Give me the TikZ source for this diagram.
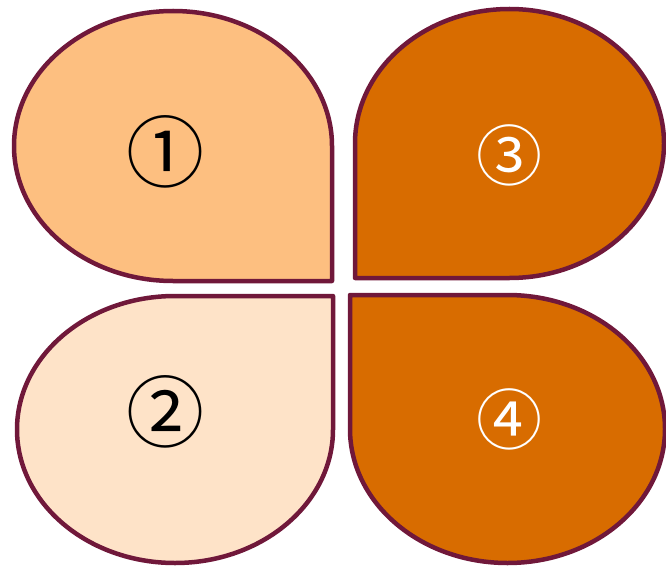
\documentclass[tikz,border=0pt]{standalone}
\usepackage{fontspec}
\newfontfamily\symfont{Noto Sans CJK JP}
\definecolor{edge}{RGB}{112,24,58}
\definecolor{fillA}{RGB}{253,191,128}
\definecolor{fillB}{RGB}{254,227,200}
\definecolor{fillC}{RGB}{216,108,0}
\begin{document}
\begin{tikzpicture}[x=1pt,y=1pt,
  petal/.style={draw=edge,line width=4.5pt,line join=round},
  darklabel/.style={font=\symfont\fontsize{78}{78}\selectfont,text=black,inner sep=0pt},
  lightlabel/.style={font=\symfont\fontsize{66}{66}\selectfont,text=white,inner sep=0pt}]
\useasboundingbox (0,0) rectangle (666,566);
% petal 1: square corner bottom-right
\draw[petal,fill=fillA] (332,420) -- (332,285) -- (173,285)
  arc[start angle=270,end angle=0,x radius=159,y radius=135] -- cycle;
% petal 2: square corner top-right
\draw[petal,fill=fillB] (333,136.5) -- (333,270) -- (175,270)
  arc[start angle=90,end angle=360,x radius=158,y radius=133.5] -- cycle;
% petal 3: square corner bottom-left
\draw[petal,fill=fillC] (355,422.5) -- (355,288) -- (509.5,288)
  arc[start angle=-90,end angle=180,x radius=154.5,y radius=134.5] -- cycle;
% petal 4: square corner top-left
\draw[petal,fill=fillC] (350,137) -- (350,271) -- (507.5,271)
  arc[start angle=90,end angle=-180,x radius=157.5,y radius=134] -- cycle;
\node[darklabel] (l1) at (165,414) {①};
\node[darklabel] (l2) at (165,154) {②};
\node[lightlabel] (l3) at (509,411) {③};
\node[lightlabel] (l4) at (509,147) {④};
\end{tikzpicture}
\end{document}
